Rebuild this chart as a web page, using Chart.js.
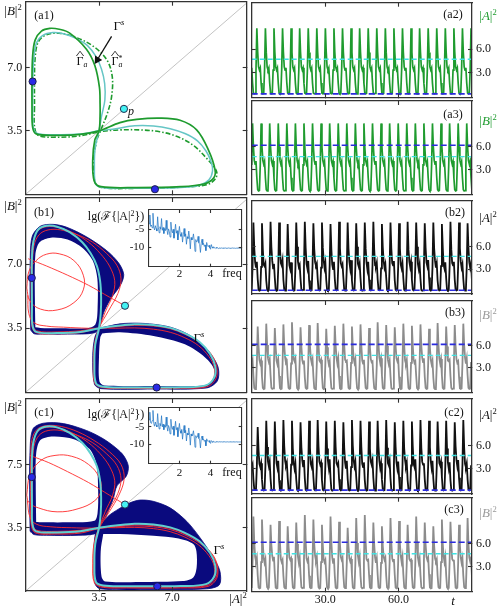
<!DOCTYPE html>
<html>
<head>
<meta charset="utf-8">
<script src="https://cdn.jsdelivr.net/npm/chart.js@4.4.1/dist/chart.umd.min.js"></script>
<style>
html,body{margin:0;padding:0;background:#fff;}
body{position:relative;width:502px;height:607px;overflow:hidden;}
canvas{position:absolute;}
.lb{position:absolute;z-index:5;transform:translate(-50%,-50%);font-family:"Liberation Serif","DejaVu Serif",serif;font-size:13px;line-height:1;white-space:nowrap;color:#111;}
.lb sup{font-size:0.66em;vertical-align:0.5em;line-height:0;}
.lb sub{font-size:0.66em;vertical-align:-0.3em;line-height:0;}
.st{display:inline-block;vertical-align:-0.25em;line-height:0.75;font-size:0.66em;text-align:left;}
.hat{position:relative;display:inline-block;}
.hat .h{position:absolute;left:-1px;right:-1px;top:-0.55em;text-align:center;font-size:0.95em;transform:scaleX(1.6);}
.sm{font-size:12px;}
.gr{color:#1e9b2e;}
.gy{color:#999;}
</style>
</head>
<body>
<div id="stage"></div>

<div class="lb" style="left:13px;top:10px">|<i>B</i>|<sup>2</sup></div>
<div class="lb sm" style="left:44px;top:15px">(a1)</div>
<div class="lb" style="left:119px;top:25px">Γ<sup><i>s</i></sup></div>
<div class="lb sm" style="left:82px;top:61px"><span class="hat">Γ<span class="h">^</span></span><sub><i>a</i></sub></div>
<div class="lb sm" style="left:117px;top:61px"><span class="hat">Γ<span class="h">^</span></span><span class="st">*<br><i>a</i></span></div>
<div class="lb sm" style="left:131px;top:111px"><i>p</i></div>

<div class="lb" style="left:13px;top:205px">|<i>B</i>|<sup>2</sup></div>
<div class="lb sm" style="left:44px;top:212px">(b1)</div>
<div class="lb" style="left:199px;top:337px">Γ<sup><i>s</i></sup></div>
<div class="lb" style="left:116px;top:216px;font-size:12px">lg(ℱ{|A|<sup>2</sup>})</div>
<div class="lb sm" style="left:232px;top:273px">freq</div>

<div class="lb" style="left:13px;top:406px">|<i>B</i>|<sup>2</sup></div>
<div class="lb sm" style="left:44px;top:412px">(c1)</div>
<div class="lb" style="left:219px;top:549px">Γ<sup><i>s</i></sup></div>
<div class="lb" style="left:116px;top:414px;font-size:12px">lg(ℱ{|A|<sup>2</sup>})</div>
<div class="lb sm" style="left:232px;top:472px">freq</div>
<div class="lb" style="left:238px;top:598px">|<i>A</i>|<sup>2</sup></div>

<div class="lb sm" style="left:453px;top:14px">(a2)</div>
<div class="lb gr" style="left:488px;top:15px">|<i>A</i>|<sup>2</sup></div>
<div class="lb sm" style="left:453px;top:114px">(a3)</div>
<div class="lb gr" style="left:488px;top:120px">|<i>B</i>|<sup>2</sup></div>
<div class="lb sm" style="left:455px;top:212px">(b2)</div>
<div class="lb" style="left:488px;top:217px">|<i>A</i>|<sup>2</sup></div>
<div class="lb sm" style="left:455px;top:312px">(b3)</div>
<div class="lb gy" style="left:488px;top:314px">|<i>B</i>|<sup>2</sup></div>
<div class="lb sm" style="left:454px;top:412px">(c2)</div>
<div class="lb" style="left:488px;top:414px">|<i>A</i>|<sup>2</sup></div>
<div class="lb sm" style="left:454px;top:509px">(c3)</div>
<div class="lb gy" style="left:488px;top:512px">|<i>B</i>|<sup>2</sup></div>
<div class="lb" style="left:453px;top:600px"><i>t</i></div>

<script>
// ---------------- tick definitions ----------------
const phaseTicks = [3.5, 7.0];
const phaseTickLabels = ['3.5', '7.0'];
const c1YTickLabels = ['3.5', '7.5'];
const seriesTicks = [3.0, 6.0];
const seriesTickLabels = ['3.0', '6.0'];
const timeTicks = [30, 60];
const timeTickLabels = ['30.0', '60.0'];
const fftXTicks = [2, 4];
const fftXTickLabels = ['2', '4'];
const fftYTicks = [-5, -10];
const fftYTickLabels = ['-5', '-10'];
const T_STEP = 0.35;      // sampling step of the time series
const FFT_STEP = 0.05;    // sampling step of the spectra

// ---------------- equilibria / levels ----------------
const eqBlueA = [[0.33, 6.22], [6.17, 0.28]];
const eqBlueB = [[0.29, 6.25], [6.25, 0.26]];
const eqBlueC = [[0.29, 6.3], [6.28, 0.26]];
const eqPA = [[4.69, 4.71]];
const eqPB = [[4.74, 4.73]];
const eqPC = [[4.74, 4.78]];
const levelP = 4.7;
const levelBlueA = 0.2;
const levelBlueB = 6.2;

// ---------------- (a1) curves ----------------
const gammaS_A = [[0.33,4.8],[0.36,3.7],[0.55,3.35],[1.5,3.28],[2.6,3.32],[3.5,3.5],[4.3,3.62],[5.2,3.78],[6.1,3.77],[6.9,3.62],[7.6,3.35],[8.2,2.95],[8.6,2.4],[8.85,1.8],[8.92,1.3],[8.75,0.8],[8.3,0.5],[7.4,0.38],[6.2,0.34],[4.8,0.33],[3.7,0.36],[3.35,0.55],[3.28,1.5],[3.32,2.6],[3.5,3.5],[3.62,4.3],[3.78,5.2],[3.77,6.1],[3.62,6.9],[3.35,7.6],[2.95,8.2],[2.4,8.6],[1.8,8.85],[1.3,8.92],[0.8,8.75],[0.5,8.3],[0.38,7.4],[0.34,6.2],[0.33,4.8]];
const gammaHatA = [[0.3,4.8],[0.33,3.7],[0.5,3.33],[1.5,3.25],[2.6,3.3],[3.5,3.5],[4.5,3.95],[5.3,4.13],[6.4,4.2],[7.37,4.08],[8.16,3.55],[8.72,2.45],[9.04,1.34],[8.96,0.88],[8.5,0.57],[7.4,0.42],[5.3,0.37],[3.6,0.42],[3.27,0.74],[3.2,1.9],[3.3,3.0],[3.5,3.5],[3.55,4.3],[3.55,5.0],[3.52,5.9],[3.3,7.1],[2.9,8.0],[2.1,8.89],[1.6,9.1],[1.15,9.15],[0.75,9.0],[0.45,8.5],[0.33,7.6],[0.3,6.2],[0.3,4.8]];
const gammaHatAStar = [[0.42,4.8],[0.42,3.75],[0.6,3.25],[1.5,3.15],[2.6,3.22],[3.55,3.45],[4.5,3.55],[5.5,3.55],[6.4,3.45],[7.2,3.2],[8.0,2.7],[8.7,1.9],[9.1,1.3],[9.08,0.9],[8.7,0.55],[7.5,0.4],[5.3,0.33],[3.6,0.38],[3.3,0.7],[3.25,2.0],[3.4,3.0],[3.55,3.45],[3.9,4.47],[4.1,5.39],[4.13,6.5],[3.87,7.42],[3.23,8.16],[2.4,8.65],[1.6,8.88],[1.0,8.8],[0.6,8.4],[0.45,7.5],[0.42,6.2],[0.42,4.8]];
const arrowA1 = [[4.1, 8.71], [3.42, 7.42]];

// ---------------- (b1),(c1) curves ----------------
const gammaS_BC = [[0.3,4.8],[0.32,3.7],[0.5,3.3],[1.5,3.24],[2.6,3.3],[3.5,3.5],[4.3,3.62],[5.2,3.72],[6.1,3.68],[6.9,3.52],[7.6,3.22],[8.3,2.75],[8.8,2.1],[9.05,1.4],[9.0,0.8],[8.6,0.38],[7.4,0.27],[6.2,0.26],[4.8,0.26],[3.7,0.3],[3.35,0.5],[3.28,1.5],[3.32,2.6],[3.5,3.5],[3.58,4.3],[3.6,5.2],[3.55,6.1],[3.4,6.9],[3.1,7.6],[2.7,8.2],[2.1,8.75],[1.5,9.05],[1.0,9.1],[0.6,8.9],[0.38,8.3],[0.3,7.4],[0.29,6.2],[0.3,4.8]];
const redBand1 = [[0.26,4.8],[0.28,3.7],[0.48,3.26],[1.5,3.2],[2.6,3.26],[3.5,3.5],[4.3,3.58],[5.2,3.66],[6.1,3.62],[6.9,3.47],[7.6,3.17],[8.3,2.72],[8.85,2.1],[9.12,1.4],[9.08,0.75],[8.65,0.3],[7.4,0.22],[6.2,0.21],[4.8,0.21],[3.7,0.25],[3.3,0.48],[3.23,1.5],[3.28,2.6],[3.5,3.5],[3.8,4.4],[4.15,5.3],[4.25,6.1],[4.0,6.9],[3.55,7.6],[3.0,8.2],[2.3,8.7],[1.6,9.0],[1.0,9.05],[0.6,8.85],[0.36,8.3],[0.27,7.4],[0.26,6.2],[0.26,4.8]];
const redBand2 = [[0.32,4.8],[0.34,3.7],[0.52,3.36],[1.5,3.3],[2.6,3.36],[3.5,3.5],[4.3,3.5],[5.2,3.52],[6.1,3.45],[6.9,3.28],[7.6,2.98],[8.25,2.55],[8.75,1.95],[9.0,1.35],[8.95,0.72],[8.55,0.33],[7.4,0.25],[6.2,0.24],[4.8,0.24],[3.7,0.27],[3.34,0.5],[3.27,1.5],[3.3,2.6],[3.5,3.5],[3.95,4.45],[4.4,5.4],[4.55,6.2],[4.35,6.95],[3.85,7.6],[3.2,8.2],[2.5,8.6],[1.8,8.85],[1.2,8.9],[0.72,8.7],[0.44,8.2],[0.33,7.3],[0.32,6.1],[0.32,4.8]];
const redBand3 = [[0.24,4.8],[0.26,3.7],[0.45,3.22],[1.5,3.15],[2.6,3.2],[3.5,3.45],[4.3,3.55],[5.2,3.6],[6.1,3.55],[6.9,3.4],[7.6,3.1],[8.3,2.65],[8.9,2.05],[9.15,1.4],[9.12,0.7],[8.7,0.25],[7.4,0.17],[6.2,0.16],[4.8,0.17],[3.7,0.2],[3.28,0.45],[3.2,1.5],[3.26,2.6],[3.5,3.45],[4.0,4.4],[4.45,5.3],[4.7,6.2],[4.55,7.0],[4.0,7.7],[3.3,8.3],[2.5,8.8],[1.7,9.1],[1.0,9.15],[0.55,8.95],[0.3,8.4],[0.24,7.4],[0.23,6.2],[0.24,4.8]];
const redLoopB = [[0.05,5.7],[0.15,6.6],[0.5,7.2],[1.0,7.55],[1.6,7.57],[2.3,7.2],[2.75,6.4],[2.75,5.6],[2.3,4.9],[1.5,4.5],[0.7,4.55],[0.2,5.0],[0.05,5.7]];
const redToPB = [[0.12,7.3],[1.0,6.9],[2.0,6.4],[3.0,5.85],[4.0,5.2],[4.74,4.73]];
const redArcB = [[0.1,5.3],[0.15,4.3],[0.4,3.8],[1.0,3.62],[1.8,3.56],[3.0,3.5],[3.5,3.5]];
const redLoopC = [[0.05,5.3],[0.2,6.4],[0.7,7.2],[1.4,7.5],[2.2,7.45],[3.0,7.0],[3.5,6.3],[3.6,5.6],[3.3,5.0],[2.5,4.55],[1.5,4.38],[0.6,4.6],[0.15,4.9],[0.05,5.3]];
const redToPC = [[0.2,7.5],[1.1,7.1],[2.0,6.6],[3.0,6.0],[4.0,5.3],[4.74,4.78]];
const redArcC = [[0.08,5.0],[0.2,4.1],[0.5,3.7],[1.2,3.55],[2.2,3.5],[3.0,3.48],[3.5,3.5]];

const bandB1LeftOuter = [[0.24,3.4],[0.21,5.0],[0.22,7.5],[0.32,8.55],[0.7,9.08],[1.3,9.18],[1.96,9.02],[2.9,8.5],[3.86,7.75],[4.45,7.05],[4.68,6.43],[4.52,5.85],[4.05,5.1],[3.72,4.35],[3.56,3.68],[3.3,3.26],[2.0,3.18],[0.8,3.18],[0.4,3.2],[0.24,3.4]];
const bandB1LeftHole = [[0.46,3.55],[0.44,5.0],[0.46,7.5],[0.66,8.2],[1.2,8.45],[2.0,8.35],[2.7,7.9],[3.2,7.2],[3.42,6.2],[3.43,4.5],[3.33,3.72],[3.0,3.52],[1.5,3.5],[0.7,3.52],[0.46,3.55]];
const bandB1RightOuter = [[3.5,3.5],[4.5,3.74],[5.3,3.78],[6.1,3.72],[6.9,3.56],[7.7,3.2],[8.45,2.6],[8.95,1.9],[9.2,1.3],[9.15,0.62],[8.65,0.24],[6.1,0.18],[3.6,0.2],[3.28,0.45],[3.2,2.0],[3.3,3.0],[3.5,3.5]];
const bandB1RightHole = [[3.65,3.22],[4.5,3.28],[6.1,3.08],[7.6,2.62],[8.55,1.92],[9.0,1.25],[8.9,0.6],[8.4,0.36],[6.0,0.35],[3.75,0.37],[3.52,0.6],[3.5,2.0],[3.56,3.0],[3.65,3.22]];
const bandC1LeftOuter = [[0.21,3.3],[0.19,5.0],[0.2,7.5],[0.34,8.95],[0.84,9.28],[1.8,9.26],[2.9,8.88],[3.7,8.42],[4.3,7.92],[4.68,7.48],[4.9,6.9],[4.8,6.35],[4.36,5.82],[4.18,5.1],[3.94,4.4],[3.63,3.6],[3.4,3.2],[2.5,3.08],[1.0,3.08],[0.4,3.12],[0.21,3.3]];
const bandC1LeftHole = [[0.5,3.82],[0.48,6.0],[0.5,7.6],[0.7,8.35],[1.3,8.55],[2.3,8.4],[3.05,7.85],[3.38,7.0],[3.46,5.5],[3.43,4.3],[3.28,3.88],[2.0,3.8],[0.8,3.8],[0.5,3.82]];
const bandC1RightOuter = [[3.45,3.4],[3.9,4.1],[4.5,4.58],[4.98,4.88],[5.46,5.03],[6.09,4.96],[6.89,4.6],[7.69,3.85],[8.32,2.95],[8.96,1.85],[9.27,1.1],[9.25,0.35],[8.64,0.12],[6.09,0.07],[3.55,0.12],[3.3,0.44],[3.26,2.36],[3.32,3.1],[3.45,3.4]];
const bandC1RightHole = [[3.7,3.15],[4.5,3.15],[6.1,3.05],[7.3,2.9],[8.0,2.6],[8.15,2.2],[8.16,1.3],[8.0,0.75],[7.5,0.55],[5.5,0.5],[3.8,0.52],[3.62,0.8],[3.58,2.2],[3.7,3.15]];

// ---------------- spectra ----------------
const fftB1 = [-2.0,-3.5,-1.0,-4.2,-3.8,-4.6,-0.5,-4.4,-5.2,-4.0,
-4.8,-5.5,-1.5,-4.6,-6.0,-4.3,-5.0,-2.0,-5.3,-4.5,
-6.2,-4.8,-5.4,-2.5,-5.1,-6.5,-4.9,-5.6,-7.2,-3.0,
-5.3,-6.0,-5.0,-7.5,-5.7,-3.6,-6.1,-5.4,-8.0,-6.0,
-4.2,-6.4,-7.0,-5.9,-8.6,-6.5,-4.8,-7.0,-6.3,-9.2,
-7.1,-7.6,-5.5,-7.4,-10.5,-7.3,-8.0,-7.6,-6.3,-8.2,
-11.2,-7.9,-8.6,-8.3,-7.0,-8.8,-9.3,-11.5,-8.9,-7.8,
-9.3,-9.0,-9.8,-9.4,-11.0,-8.7,-9.6,-9.9,-9.5,-10.2,
-10.6,-9.3,-10.0,-10.3,-9.9,-10.2,-10.4,-10.1,-10.3,-10.2,
-10.4,-10.3,-10.2,-10.35,-10.25,-10.3,-10.35,-10.2,-10.3,-10.25,
-10.3,-10.35,-10.3,-10.25,-10.3,-10.3,-10.35,-10.3,-10.25,-10.3,
-10.3,-10.3,-10.35,-10.3,-10.3,-10.25,-10.3,-10.3,-10.3,-10.3,-10.3];
const fftC1 = [-1.5,-3.0,-0.8,-3.8,-4.0,-3.2,-0.3,-4.0,-4.8,-3.6,
-4.5,-5.0,-1.2,-4.2,-5.6,-4.0,-4.7,-1.8,-5.0,-4.2,
-5.8,-4.5,-5.1,-2.2,-4.8,-6.2,-4.6,-5.3,-7.0,-2.8,
-5.0,-5.7,-4.8,-7.4,-5.5,-3.4,-5.8,-5.2,-7.8,-5.8,
-4.0,-6.1,-6.8,-5.7,-8.5,-6.2,-4.6,-6.7,-6.0,-9.0,
-6.8,-7.3,-5.3,-7.1,-10.2,-7.0,-7.6,-7.2,-6.1,-7.8,
-10.8,-7.5,-8.1,-7.9,-6.8,-8.3,-8.7,-11.0,-8.4,-7.6,
-8.7,-8.5,-9.1,-8.8,-10.4,-8.4,-9.0,-9.2,-8.9,-9.4,
-9.7,-8.9,-9.2,-9.4,-9.1,-9.3,-9.4,-9.2,-9.3,-9.25,
-9.3,-9.25,-9.2,-9.3,-9.25,-9.3,-9.3,-9.2,-9.25,-9.3,
-9.3,-9.3,-9.25,-9.3,-9.3,-9.25,-9.3,-9.3,-9.3,-9.25,
-9.3,-9.3,-9.3,-9.25,-9.3,-9.3,-9.3,-9.3,-9.3,-9.3,-9.3];

// ---------------- time series ----------------
const a2A = [3.6,1.6,0.3,0.2,0.25,3.3,
8.75,5.6,3.7,3.3,3.6,1.6,0.3,0.2,0.25,3.3,
8.75,5.6,3.7,3.3,3.6,1.6,0.3,0.2,0.25,3.3,
8.75,5.6,3.7,3.3,3.6,1.6,0.3,0.2,0.25,3.3,
8.75,5.6,3.7,3.3,3.6,1.6,0.3,0.2,0.25,3.3,
8.75,5.6,3.7,3.3,3.6,1.6,0.3,0.2,0.25,3.3,
8.75,5.6,3.7,3.3,3.6,1.6,0.3,0.2,0.25,3.3,
8.75,5.6,3.7,3.3,3.6,1.6,0.3,0.2,0.25,3.3,
8.75,5.6,3.7,3.3,3.6,1.6,0.3,0.2,0.25,3.3,
8.75,5.6,3.7,3.3,3.6,1.6,0.3,0.2,0.25,3.3,
8.75,5.6,3.7,3.3,3.6,1.6,0.3,0.2,0.25,3.3,
8.75,5.6,3.7,3.3,3.6,1.6,0.3,0.2,0.25,3.3,
8.75,5.6,3.7,3.3,3.6,1.6,0.3,0.2,0.25,3.3,
8.75,5.6,3.7,3.3,3.6,1.6,0.3,0.2,0.25,3.3,
8.75,5.6,3.7,3.3,3.6,1.6,0.3,0.2,0.25,3.3,
8.75,5.6,3.7,3.3,3.6,1.6,0.3,0.2,0.25,3.3,
8.75,5.6,3.7,3.3,3.6,1.6,0.3,0.2,0.25,3.3,
8.75,5.6,3.7,3.3,3.6,1.6,0.3,0.2,0.25,3.3,
8.75,5.6,3.7,3.3,3.6,1.6,0.3,0.2,0.25,3.3,
8.75,5.6,3.7,3.3,3.6,1.6,0.3,0.2,0.25,3.3,
8.75,5.6,3.7,3.3,3.6,1.6,0.3,0.2,0.25,3.3,
8.75,5.6,3.7,3.3,3.6,1.6,0.3,0.2,0.25,3.3,
8.75,5.6,3.7,3.3,3.6,1.6,0.3,0.2,0.25,3.3,
8.75,5.6,3.7,3.3,3.6,1.6,0.3,0.2,0.25,3.3,
8.75,5.6,3.7,3.3,3.6,1.6,0.3,0.2,0.25,3.3,
8.75,5.6,3.7,3.3,3.6,1.6,0.3,0.2,0.25,3.3,
8.75,5.6];
const a3B = [3.6,
9.1,6.0,4.2,3.7,4.1,1.9,0.3,0.15,0.2,3.6,
9.1,6.0,4.2,3.7,4.1,1.9,0.3,0.15,0.2,3.6,
9.1,6.0,4.2,3.7,4.1,1.9,0.3,0.15,0.2,3.6,
9.1,6.0,4.2,3.7,4.1,1.9,0.3,0.15,0.2,3.6,
9.1,6.0,4.2,3.7,4.1,1.9,0.3,0.15,0.2,3.6,
9.1,6.0,4.2,3.7,4.1,1.9,0.3,0.15,0.2,3.6,
9.1,6.0,4.2,3.7,4.1,1.9,0.3,0.15,0.2,3.6,
9.1,6.0,4.2,3.7,4.1,1.9,0.3,0.15,0.2,3.6,
9.1,6.0,4.2,3.7,4.1,1.9,0.3,0.15,0.2,3.6,
9.1,6.0,4.2,3.7,4.1,1.9,0.3,0.15,0.2,3.6,
9.1,6.0,4.2,3.7,4.1,1.9,0.3,0.15,0.2,3.6,
9.1,6.0,4.2,3.7,4.1,1.9,0.3,0.15,0.2,3.6,
9.1,6.0,4.2,3.7,4.1,1.9,0.3,0.15,0.2,3.6,
9.1,6.0,4.2,3.7,4.1,1.9,0.3,0.15,0.2,3.6,
9.1,6.0,4.2,3.7,4.1,1.9,0.3,0.15,0.2,3.6,
9.1,6.0,4.2,3.7,4.1,1.9,0.3,0.15,0.2,3.6,
9.1,6.0,4.2,3.7,4.1,1.9,0.3,0.15,0.2,3.6,
9.1,6.0,4.2,3.7,4.1,1.9,0.3,0.15,0.2,3.6,
9.1,6.0,4.2,3.7,4.1,1.9,0.3,0.15,0.2,3.6,
9.1,6.0,4.2,3.7,4.1,1.9,0.3,0.15,0.2,3.6,
9.1,6.0,4.2,3.7,4.1,1.9,0.3,0.15,0.2,3.6,
9.1,6.0,4.2,3.7,4.1,1.9,0.3,0.15,0.2,3.6,
9.1,6.0,4.2,3.7,4.1,1.9,0.3,0.15,0.2,3.6,
9.1,6.0,4.2,3.7,4.1,1.9,0.3,0.15,0.2,3.6,
9.1,6.0,4.2,3.7,4.1,1.9,0.3,0.15,0.2,3.6,
9.1,6.0,4.2,3.7,4.1,1.9,0.3];
const b2A = [0.25,3.3,
9.2,5.8,3.9,3.2,4.0,1.7,0.25,0.15,0.2,3.3,
9.1,5.6,3.6,3.4,3.8,1.5,0.3,0.18,0.22,3.4,
9.3,5.9,4.1,3.1,3.7,1.8,0.22,0.12,0.2,3.2,
9.2,5.7,3.8,3.5,4.2,1.6,0.28,0.16,0.24,3.5,
9.0,5.6,3.5,3.0,3.9,1.9,0.25,0.14,0.18,3.1,
9.2,6.0,4.0,3.3,3.6,1.7,0.3,0.2,0.25,3.3,
9.3,5.8,3.7,3.1,4.1,1.5,0.22,0.15,0.2,3.4,
9.1,5.7,3.9,3.5,3.8,1.8,0.27,0.17,0.22,3.2,
9.2,5.9,4.2,3.2,3.9,1.6,0.24,0.13,0.19,3.5,
9.0,5.6,3.6,3.0,4.0,1.7,0.3,0.18,0.23,3.3,
9.3,5.8,3.8,3.4,3.7,1.9,0.25,0.15,0.2,3.2,
9.2,5.7,4.0,3.1,4.2,1.5,0.28,0.16,0.21,3.4,
9.1,6.0,3.7,3.3,3.8,1.8,0.23,0.14,0.2,3.3,
9.2,5.8,3.9,3.0,4.0,1.6,0.26,0.17,0.24,3.5,
9.3,5.6,3.5,3.4,3.9,1.7,0.3,0.19,0.22,3.1,
9.0,5.9,4.1,3.2,3.7,1.9,0.24,0.13,0.2,3.3,
9.2,5.7,3.8,3.5,4.1,1.5,0.27,0.16,0.23,3.4,
9.1,5.8,3.6,3.1,3.8,1.8,0.25,0.15,0.2,3.2,
9.3,5.6,4.0,3.3,4.0,1.6,0.29,0.18,0.22,3.5,
9.2,6.0,3.7,3.0,3.7,1.7,0.22,0.14,0.19,3.3,
9.1,5.8,3.9,3.4,4.2,1.9,0.26,0.16,0.24,3.2,
9.2,5.7,4.1,3.2,3.8,1.5,0.3,0.18,0.21,3.4,
9.0,5.9,3.6,3.1,3.9,1.8,0.24,0.15,0.2,3.3,
9.3,5.6,3.8,3.5,4.0,1.6,0.27,0.17,0.23,3.5,
9.2,5.8,4.0,3.2,3.7,1.7,0.25,0.14,0.2,3.3,
9.1,5.8,3.9,3.2,3.8,1.7];
const b3B = [3.7,4.1,1.9,0.3,0.15,0.2,3.6,
8.6,5.9,4.1,3.6,4.0,1.8,0.28,0.14,0.2,3.5,
9.0,6.1,4.3,3.8,4.2,2.0,0.3,0.16,0.22,3.7,
8.4,5.8,4.0,3.5,4.1,1.9,0.25,0.13,0.18,3.4,
8.9,6.0,4.4,3.7,3.9,1.8,0.3,0.15,0.21,3.6,
9.2,6.2,4.2,3.9,4.3,2.0,0.27,0.14,0.2,3.8,
8.5,5.9,4.1,3.6,4.0,1.7,0.29,0.16,0.22,3.5,
8.8,6.0,4.3,3.7,4.2,1.9,0.26,0.15,0.19,3.6,
9.1,6.1,4.0,3.8,4.1,2.0,0.3,0.13,0.2,3.7,
8.3,5.8,4.2,3.5,3.9,1.8,0.28,0.15,0.21,3.4,
8.7,6.0,4.4,3.6,4.3,1.9,0.25,0.14,0.2,3.6,
9.0,6.1,4.1,3.9,4.0,2.0,0.3,0.16,0.22,3.7,
8.6,5.9,4.3,3.7,4.2,1.8,0.27,0.13,0.18,3.5,
8.9,6.0,4.0,3.6,4.1,1.9,0.29,0.15,0.21,3.6,
8.4,5.8,4.2,3.8,3.9,1.7,0.26,0.14,0.2,3.4,
9.2,6.2,4.4,3.7,4.3,2.0,0.3,0.16,0.22,3.8,
8.8,6.0,4.1,3.5,4.0,1.9,0.28,0.15,0.19,3.6,
8.5,5.9,4.3,3.9,4.2,1.8,0.25,0.13,0.2,3.5,
9.0,6.1,4.0,3.6,4.1,2.0,0.3,0.14,0.21,3.7,
8.7,6.0,4.2,3.7,3.9,1.9,0.27,0.16,0.22,3.6,
8.9,6.0,4.4,3.8,4.3,1.8,0.29,0.15,0.2,3.6,
8.3,5.8,4.1,3.5,4.0,1.7,0.26,0.13,0.18,3.4,
9.1,6.1,4.3,3.6,4.2,2.0,0.3,0.16,0.21,3.7,
8.6,5.9,4.0,3.9,4.1,1.9,0.28,0.14,0.2,3.5,
8.8,6.0,4.2,3.7,3.9,1.8,0.25,0.15,0.22,3.6,
9.0,6.1,4.4,3.6,4.3,2.0,0.3,0.16,0.2,3.7,
8.7];
const c2A = [3.3,3.6,1.6,0.3,0.2,0.25,3.3,
8.4,5.4,3.6,3.2,3.7,1.6,0.25,0.15,0.2,3.3,
9.2,5.8,3.9,3.3,3.9,1.7,0.28,0.16,0.22,3.4,
9.1,5.7,3.7,3.1,4.0,1.5,0.24,0.14,0.2,3.2,
9.3,5.9,4.0,3.4,3.8,1.8,0.3,0.17,0.23,3.5,
9.2,5.6,3.8,3.0,3.7,1.6,0.26,0.15,0.19,3.3,
9.0,5.8,4.1,3.3,4.1,1.7,0.25,0.13,0.2,3.4,
9.2,5.7,3.6,3.2,3.9,1.9,0.29,0.16,0.22,3.2,
9.3,5.9,3.9,3.5,3.8,1.5,0.24,0.15,0.21,3.5,
9.1,5.6,4.0,3.1,4.2,1.8,0.27,0.14,0.2,3.3,
9.2,5.8,3.7,3.4,3.7,1.6,0.3,0.17,0.23,3.4,
9.0,5.7,3.8,3.0,4.0,1.7,0.25,0.15,0.2,3.2,
9.3,6.0,4.1,3.3,3.9,1.9,0.26,0.16,0.22,3.5,
9.2,5.8,3.6,3.2,3.8,1.5,0.24,0.13,0.19,3.3,
9.1,5.6,3.9,3.5,4.1,1.8,0.28,0.15,0.21,3.4,
9.2,5.9,4.0,3.1,3.7,1.6,0.3,0.17,0.2,3.2,
9.3,5.7,3.7,3.4,4.0,1.7,0.25,0.14,0.22,3.5,
9.0,5.8,3.8,3.0,3.9,1.9,0.27,0.16,0.2,3.3,
9.2,5.6,4.1,3.3,3.8,1.5,0.24,0.15,0.23,3.4,
9.1,5.9,3.6,3.2,4.2,1.8,0.29,0.13,0.19,3.2,
9.3,5.7,3.9,3.5,3.7,1.6,0.26,0.16,0.21,3.5,
9.2,5.8,4.0,3.1,4.0,1.7,0.25,0.15,0.2,3.3,
9.1,6.0,3.7,3.4,3.9,1.9,0.3,0.17,0.22,3.4,
9.2,5.6,3.8,3.0,3.8,1.5,0.24,0.14,0.2,3.2,
9.0,5.9,4.1,3.3,4.1,1.8,0.28,0.16,0.23,3.5,
9.3,5.7,3.6,3.2,3.7,1.6,0.26,0.15,0.19,3.3,
9.2];
const c3B = [0.2,3.6,
9.6,6.2,4.3,3.7,4.2,1.9,0.28,0.14,0.2,3.6,
9.2,6.0,4.1,3.5,4.0,1.8,0.3,0.16,0.22,3.5,
8.5,5.8,4.4,3.8,4.3,2.0,0.25,0.13,0.18,3.7,
9.0,6.1,4.0,3.6,3.9,1.8,0.3,0.15,0.21,3.5,
8.3,5.7,4.2,3.9,4.1,1.9,0.27,0.14,0.2,3.6,
8.8,6.0,4.3,3.5,4.2,2.0,0.29,0.16,0.22,3.7,
9.8,6.3,4.1,3.7,4.0,1.8,0.26,0.15,0.19,3.5,
9.2,6.0,4.4,3.8,4.3,1.9,0.3,0.13,0.2,3.6,
8.5,5.8,4.0,3.6,3.9,2.0,0.28,0.15,0.21,3.7,
9.6,6.2,4.2,3.5,4.1,1.8,0.25,0.14,0.2,3.5,
8.9,6.0,4.3,3.9,4.2,1.9,0.3,0.16,0.22,3.6,
8.1,5.6,4.1,3.7,4.0,2.0,0.27,0.13,0.18,3.4,
9.4,6.1,4.4,3.6,4.3,1.8,0.29,0.15,0.21,3.6,
9.8,6.3,4.0,3.8,3.9,1.9,0.26,0.14,0.2,3.7,
8.8,5.9,4.2,3.5,4.1,2.0,0.3,0.16,0.22,3.5,
8.3,5.7,4.3,3.9,4.2,1.8,0.28,0.15,0.19,3.6,
9.4,6.1,4.1,3.7,4.0,1.9,0.25,0.13,0.2,3.7,
9.0,6.0,4.4,3.6,4.3,2.0,0.3,0.14,0.21,3.5,
8.5,5.8,4.0,3.8,3.9,1.8,0.27,0.16,0.22,3.6,
9.6,6.2,4.2,3.5,4.1,1.9,0.29,0.15,0.2,3.7,
8.8,5.9,4.3,3.9,4.2,2.0,0.26,0.13,0.18,3.5,
8.3,5.7,4.1,3.7,4.0,1.8,0.3,0.16,0.21,3.6,
9.2,6.0,4.4,3.6,4.3,1.9,0.28,0.14,0.2,3.6,
8.9,6.0,4.0,3.8,3.9,2.0,0.25,0.15,0.22,3.5,
8.5,5.8,4.2,3.5,4.1,1.8,0.3,0.16,0.2,3.7,
9.4,6.0,4.2,3.7,4.1,1.9];

// ---------------- colours ----------------
const GREEN = '#1e9b2e', CYAN_S = '#66c6c6', CYAN_S2 = '#5fd0d0', NAVY = '#0a0a7e', RED = '#ff2b2b';
const CYAN_L = '#3fe3e3', BLUE_L = '#2b2bdd', BLUE_PT = '#2a2ae6', CYAN_PT = '#45f2f2';

// ---------------- helpers ----------------
Chart.defaults.font.family = '"Liberation Serif", "DejaVu Serif", serif';
Chart.defaults.color = '#111';
const xy = arr => arr.map(p => ({x: p[0], y: p[1]}));
const ts = arr => arr.map((v, i) => ({x: i * T_STEP, y: v}));
const spec = arr => arr.map((v, i) => ({x: i * FFT_STEP, y: v}));
const hline = v => [{x: 0, y: v}, {x: 90, y: v}];
const diag = [{x: 0, y: 0}, {x: 11, y: 11}];
const line = (data, color, w, extra) => Object.assign({data, showLine: true, borderColor: color, borderWidth: w, pointRadius: 0, fill: false, tension: 0}, extra || {});
const pts = (data, c, r, extra) => Object.assign({data, showLine: false, pointRadius: r, pointBackgroundColor: c, pointBorderColor: '#1a1a40', pointBorderWidth: 0.9}, extra || {});
const shape = (data, c, order) => ({data, showLine: true, borderColor: c, borderWidth: c === '#ffffff' ? 0 : 0.8, backgroundColor: c, fill: 'shape', pointRadius: 0, tension: 0.3, order});

const whiteArea = {id: 'whiteArea', beforeDraw(chart) {
  const {ctx, chartArea: a} = chart; ctx.save(); ctx.fillStyle = '#fff'; ctx.fillRect(a.left, a.top, a.width, a.height); ctx.restore();
}};

function buildChart(rect, box, xr, yr, tk, datasets, opts) {
  opts = opts || {};
  const cv = document.createElement('canvas');
  cv.width = rect.w; cv.height = rect.h;
  cv.style.left = rect.x + 'px'; cv.style.top = rect.y + 'px';
  cv.style.width = rect.w + 'px'; cv.style.height = rect.h + 'px';
  document.getElementById('stage').appendChild(cv);
  const L = box.l - rect.x, T = box.t - rect.y, R = rect.x + rect.w - box.r, B = rect.y + rect.h - box.b;
  const tl = opts.tickLen || -4;
  const fs = opts.fontSize || 12;
  const mk = (pos, range, vals, labels, size, pad) => ({
    type: 'linear', position: pos, min: range[0], max: range[1], bounds: 'data',
    grid: {display: true, drawOnChartArea: false, drawTicks: true, tickLength: tl, tickColor: '#333', tickWidth: 1.1, color: '#333', z: 1},
    border: {display: true, color: '#333', width: opts.borderW || 1.3, z: 1},
    afterBuildTicks: s => { s.ticks = vals.map(v => ({value: v})); },
    afterFit: s => {
      if (pos === 'left' || pos === 'right') s.width = size; else s.height = size;
      s.paddingTop = 0; s.paddingBottom = 0; s.paddingLeft = 0; s.paddingRight = 0;
    },
    ticks: {display: !!labels, padding: pad, font: {size: fs}, color: '#111', autoSkip: false, maxRotation: 0,
      callback: (v, i) => labels ? labels[i] : ''}
  });
  const yRight = tk.yPos === 'right';
  const scales = {
    x: mk('bottom', xr, tk.x, tk.xLabels, B, tk.xPad || 4),
    xt: mk('top', xr, tk.x, null, T, 0),
    y: mk(yRight ? 'right' : 'left', yr, tk.y, tk.yLabels, yRight ? R : L, tk.yPad || 7),
    yo: mk(yRight ? 'left' : 'right', yr, tk.y, null, yRight ? L : R, 0)
  };
  datasets.forEach(d => { d.xAxisID = 'x'; d.yAxisID = 'y'; });
  return new Chart(cv, {
    type: 'scatter',
    data: {datasets},
    options: {responsive: false, animation: false, events: [], layout: {padding: 0, autoPadding: false},
      plugins: {legend: {display: false}, tooltip: {enabled: false}, title: {display: false}},
      scales},
    plugins: opts.plugins || []
  });
}

const PX = [0, 10.55], PY = [0, 10.62];
const SY = [-0.3, 12.07], TX = [0, 90];

// ---------------- (a1) ----------------
buildChart({x: 0, y: 0, w: 250, h: 197}, {l: 25.7, t: 1.7, r: 246.7, b: 194.3}, PX, PY,
  {x: phaseTicks, xLabels: null, y: phaseTicks, yLabels: phaseTickLabels, yPad: 7.5},
  [
    pts(xy(eqBlueA), BLUE_PT, 3.6, {order: 1}),
    pts(xy(eqPA), CYAN_PT, 3.6, {order: 1}),
    line(xy(arrowA1), '#111', 1.3, {order: 2, pointRadius: [0, 3.6], pointStyle: 'triangle', pointRotation: 212, pointBackgroundColor: '#111', pointBorderColor: '#111'}),
    line(xy(gammaHatA), GREEN, 1.7, {tension: 0.35, order: 3}),
    line(xy(gammaS_A), CYAN_S, 1.5, {tension: 0.35, order: 4}),
    line(xy(gammaHatAStar), GREEN, 1.6, {tension: 0.35, borderDash: [5, 2, 1.5, 2], order: 5}),
    line(diag, '#b4b4b4', 0.8, {order: 9})
  ]);

// ---------------- (b1) ----------------
buildChart({x: 0, y: 196, w: 250, h: 199}, {l: 25.7, t: 198, r: 246.7, b: 392.3}, PX, PY,
  {x: phaseTicks, xLabels: null, y: phaseTicks, yLabels: phaseTickLabels, yPad: 7.5},
  [
    pts(xy(eqBlueB), BLUE_PT, 3.6, {order: 1}),
    pts(xy(eqPB), CYAN_PT, 3.6, {order: 1}),
    line(xy(gammaS_BC), CYAN_S2, 2.0, {tension: 0.35, order: 3}),
    line(xy(redBand1), RED, 0.9, {tension: 0.35, order: 6}),
    line(xy(redBand2), RED, 0.9, {tension: 0.35, order: 6}),
    line(xy(redLoopB), RED, 0.9, {tension: 0.4, order: 6}),
    line(xy(redToPB), RED, 0.9, {tension: 0.3, order: 6}),
    line(xy(redArcB), RED, 0.9, {tension: 0.4, order: 6}),
    shape(xy(bandB1LeftHole), '#ffffff', 12),
    shape(xy(bandB1RightHole), '#ffffff', 12),
    shape(xy(bandB1LeftOuter), NAVY, 14),
    shape(xy(bandB1RightOuter), NAVY, 14),
    line(diag, '#b4b4b4', 0.8, {order: 16})
  ]);

// ---------------- (c1) ----------------
buildChart({x: 0, y: 397, w: 250, h: 210}, {l: 25.7, t: 399, r: 246.7, b: 591}, PX, PY,
  {x: phaseTicks, xLabels: phaseTickLabels, y: phaseTicks, yLabels: c1YTickLabels, yPad: 7.5, xPad: 4},
  [
    pts(xy(eqBlueC), BLUE_PT, 3.6, {order: 1}),
    pts(xy(eqPC), CYAN_PT, 3.6, {order: 1}),
    line(xy(gammaS_BC), CYAN_S2, 2.0, {tension: 0.35, order: 3}),
    line(xy(redBand1), RED, 0.9, {tension: 0.35, order: 6}),
    line(xy(redBand2), RED, 0.9, {tension: 0.35, order: 6}),
    line(xy(redBand3), RED, 0.9, {tension: 0.35, order: 6}),
    line(xy(redLoopC), RED, 0.9, {tension: 0.4, order: 6}),
    line(xy(redToPC), RED, 0.9, {tension: 0.3, order: 6}),
    line(xy(redArcC), RED, 0.9, {tension: 0.4, order: 6}),
    shape(xy(bandC1LeftHole), '#ffffff', 12),
    shape(xy(bandC1RightHole), '#ffffff', 12),
    shape(xy(bandC1LeftOuter), NAVY, 14),
    shape(xy(bandC1RightOuter), NAVY, 14),
    line(diag, '#b4b4b4', 0.8, {order: 16})
  ]);

// ---------------- insets ----------------
const FX = [0, 6], FY = [-15.5, 0.4];
buildChart({x: 112, y: 206, w: 134, h: 74}, {l: 148.3, t: 210, r: 241.7, b: 266.7}, FX, FY,
  {x: fftXTicks, xLabels: fftXTickLabels, y: fftYTicks, yLabels: fftYTickLabels, yPad: 7, xPad: 4},
  [line(spec(fftB1), 'rgba(30,115,195,0.9)', 0.8)], {fontSize: 11, tickLen: -3, borderW: 1.1, plugins: [whiteArea]});
buildChart({x: 112, y: 404, w: 134, h: 74}, {l: 148.3, t: 408, r: 241.7, b: 463.7}, FX, FY,
  {x: fftXTicks, xLabels: fftXTickLabels, y: fftYTicks, yLabels: fftYTickLabels, yPad: 7, xPad: 5.5},
  [line(spec(fftC1), 'rgba(30,115,195,0.9)', 0.8)], {fontSize: 11, tickLen: -3, borderW: 1.1, plugins: [whiteArea]});

// ---------------- time series ----------------
function seriesPanel(rect, box, values, color, blueLevel, showT) {
  buildChart(rect, box, TX, SY,
    {x: timeTicks, xLabels: showT ? timeTickLabels : null, y: seriesTicks, yLabels: seriesTickLabels, yPos: 'right', yPad: 8, xPad: 5},
    [
      line(hline(levelP), CYAN_L, 1.4, {borderDash: [5, 3], order: 1}),
      line(hline(blueLevel), BLUE_L, 1.6, {borderDash: [6, 3], order: 1}),
      line(ts(values), color, color === GREEN ? 1.7 : 1.8, {order: 2})
    ]);
}
seriesPanel({x: 250, y: 0, w: 252, h: 99}, {l: 251.7, t: 2.7, r: 472, b: 97.7}, a2A, GREEN, levelBlueA, false);
seriesPanel({x: 250, y: 99, w: 252, h: 97}, {l: 251.7, t: 101, r: 472, b: 194.3}, a3B, GREEN, levelBlueB, false);
seriesPanel({x: 250, y: 198, w: 252, h: 98}, {l: 251.7, t: 201, r: 472, b: 294}, b2A, '#111111', levelBlueA, false);
seriesPanel({x: 250, y: 298, w: 252, h: 97}, {l: 251.7, t: 301, r: 472, b: 392.3}, b3B, '#8c8c8c', levelBlueB, false);
seriesPanel({x: 250, y: 396, w: 252, h: 100}, {l: 251.7, t: 398.7, r: 472, b: 494}, c2A, '#111111', levelBlueA, false);
seriesPanel({x: 250, y: 496, w: 252, h: 111}, {l: 251.7, t: 497.7, r: 472, b: 591.7}, c3B, '#8c8c8c', levelBlueB, true);
</script>
</body>
</html>
